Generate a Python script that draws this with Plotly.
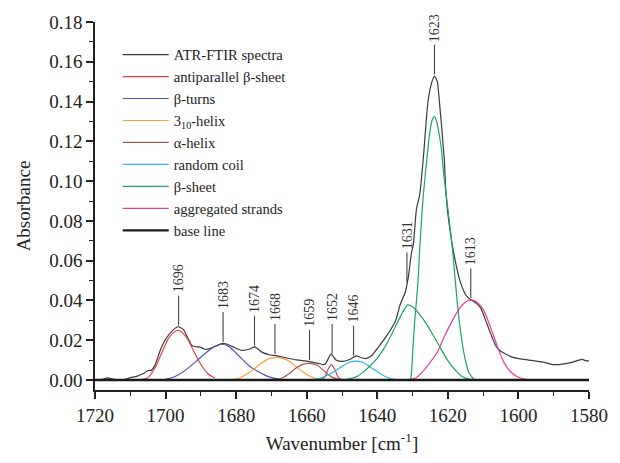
import numpy as np
import plotly.graph_objects as go

# ---------------- data ----------------
spec_wn = [1720, 1718, 1716.5, 1715, 1713, 1711.5, 1710, 1708, 1706, 1705, 1704, 1703,
           1701.5, 1700, 1698, 1696.5, 1695, 1693.5, 1692.5, 1691.2, 1690, 1688.9,
           1687.5, 1686.5, 1685, 1683.7, 1682, 1680.5, 1678.6, 1676.3, 1674.7, 1672.6,
           1670.3, 1668.4, 1665.6, 1662.8, 1659.6, 1656.8, 1654.9, 1653.1, 1651.7,
           1649.8, 1647.5, 1646, 1644.5, 1643.3, 1641.5, 1640.5, 1637.7, 1634.9,
           1633.5, 1632.1, 1631.2, 1630.3, 1629.8, 1628.9, 1628, 1627, 1625.6, 1624.5,
           1623.8, 1623, 1622.4, 1621, 1620.6, 1619.7, 1618.2, 1616.4, 1614.8, 1613.5,
           1612.6, 1610.8, 1609.5, 1608, 1606.5, 1605.2, 1603, 1601.5, 1599, 1595.9,
           1593, 1590.3, 1587.5, 1584.8, 1582, 1581, 1580]
spec_abs = [0.0000, 0.0003, 0.0011, 0.0005, 0.0002, 0.0004, 0.0012, 0.0020, 0.0035, 0.0048,
            0.0050, 0.0075, 0.0150, 0.0205, 0.0250, 0.0268, 0.0255, 0.0205, 0.0172, 0.0167,
            0.0165, 0.0155, 0.0158, 0.0164, 0.0177, 0.0184, 0.0176, 0.0164, 0.0150, 0.0155,
            0.0167, 0.0139, 0.0126, 0.0122, 0.0111, 0.0101, 0.0094, 0.0084, 0.0078, 0.0130,
            0.0101, 0.0094, 0.0106, 0.0122, 0.0112, 0.0108, 0.0125, 0.0147, 0.0213, 0.0296,
            0.0380, 0.0440, 0.0519, 0.0640, 0.0680, 0.0860, 0.0930, 0.1106, 0.1404, 0.1500,
            0.1528, 0.1500, 0.1400, 0.1106, 0.0957, 0.0792, 0.0626, 0.0490, 0.0425, 0.0403,
            0.0395, 0.0365, 0.0310, 0.0240, 0.0175, 0.0147, 0.0125, 0.0114, 0.0105, 0.0098,
            0.0090, 0.0078, 0.0080, 0.0089, 0.0104, 0.0098, 0.0096]

anti_wn = [1707, 1705, 1703, 1701, 1699, 1697, 1696.5, 1696, 1694, 1692, 1690, 1688, 1686]
anti_abs = [0.0003, 0.0012, 0.0062, 0.0140, 0.0215, 0.0248, 0.0250, 0.0248, 0.0213, 0.0145,
            0.0078, 0.0032, 0.0010]

turn_wn = [1700, 1698, 1696, 1694, 1692, 1690, 1688, 1686, 1684, 1682, 1680, 1678, 1676,
           1674, 1672, 1670, 1668]
turn_abs = [0.0005, 0.0013, 0.0030, 0.0055, 0.0084, 0.0115, 0.0145, 0.0170, 0.0180, 0.0168,
            0.0135, 0.0100, 0.0067, 0.0045, 0.0026, 0.0012, 0.0005]

h310_wn = [1681, 1679, 1677, 1675, 1673, 1671, 1669, 1668.5, 1667, 1665, 1663, 1661, 1659, 1657]
h310_abs = [0.0002, 0.0010, 0.0030, 0.0055, 0.0083, 0.0105, 0.0113, 0.0114, 0.0110, 0.0095,
            0.0067, 0.0040, 0.0018, 0.0006]

alpha1_wn = [1669, 1667, 1665, 1663, 1661, 1659, 1657, 1655, 1653, 1651]
alpha1_abs = [0.0002, 0.0010, 0.0032, 0.0060, 0.0080, 0.0084, 0.0074, 0.0045, 0.0016, 0.0004]

alpha2_wn = [1656, 1655, 1654, 1653, 1652, 1651, 1650]
alpha2_abs = [0.0002, 0.0012, 0.0052, 0.0078, 0.0052, 0.0012, 0.0002]

coil_wn = [1658, 1656, 1654, 1652, 1650, 1648, 1646, 1644, 1642, 1640, 1638, 1636, 1634]
coil_abs = [0.0002, 0.0010, 0.0025, 0.0045, 0.0068, 0.0088, 0.0095, 0.0088, 0.0066, 0.0042,
            0.0020, 0.0006, 0.0001]

sheet1_wn = [1650, 1648, 1646, 1644, 1642, 1640, 1638, 1636, 1634, 1632, 1631.4, 1630, 1628,
             1626, 1624, 1622, 1620, 1618, 1616, 1614, 1612]
sheet1_abs = [0.0001, 0.0006, 0.0016, 0.0040, 0.0072, 0.0110, 0.0162, 0.0228, 0.0300, 0.0365,
              0.0378, 0.0368, 0.0330, 0.0280, 0.0220, 0.0158, 0.0098, 0.0052, 0.0018, 0.0005,
              0.0001]

sheet2_wn = [1630.6, 1630.3, 1630.0, 1629.4, 1628.6, 1627.8, 1627.0, 1626.3, 1625.6, 1625.0,
             1624.4, 1623.8, 1623.2, 1622.6, 1621.9, 1621.2, 1620.4, 1619.6, 1618.7, 1617.8,
             1616.8, 1615.4, 1614.0, 1612.6]
sheet2_abs = [0.0000, 0.0035, 0.0130, 0.0296, 0.0461, 0.0709, 0.0920, 0.1050, 0.1170, 0.1260,
              0.1310, 0.1325, 0.1300, 0.1250, 0.1170, 0.1040, 0.0920, 0.0800, 0.0660, 0.0480,
              0.0300, 0.0130, 0.0035, 0.0003]

aggr_wn = [1631, 1629, 1627, 1625, 1623, 1621, 1619, 1617, 1615, 1613.5, 1612, 1610, 1608,
           1606, 1604, 1602, 1600, 1598, 1596]
aggr_abs = [0.0002, 0.0012, 0.0045, 0.0090, 0.0140, 0.0218, 0.0290, 0.0352, 0.0392, 0.0403,
            0.0395, 0.0355, 0.0270, 0.0170, 0.0085, 0.0038, 0.0014, 0.0004, 0.0001]

base_wn = [1720, 1580]
base_abs = [0.0, 0.0]

peak_labels = ["1696", "1683", "1674", "1668", "1659", "1652", "1646", "1631", "1623", "1613"]
peak_wn = [1696.3, 1683.7, 1674.8, 1669.0, 1659.2, 1652.8, 1646.7, 1631.6, 1623.8, 1613.5]

x_ticks = [1720, 1700, 1680, 1660, 1640, 1620, 1600, 1580]
y_ticks = [0.00, 0.02, 0.04, 0.06, 0.08, 0.10, 0.12, 0.14, 0.16, 0.18]

# ---------------- figure ----------------
FONT = "Liberation Serif"
fig = go.Figure()

fig.add_trace(go.Scatter(x=spec_wn, y=spec_abs, mode="lines", name="ATR-FTIR spectra",
                         line=dict(color="#3a3a3a", width=1.2, shape="spline", smoothing=0.6)))

comps = [
    ("antiparallel β-sheet", anti_wn, anti_abs, "#e8414b", "anti", True),
    ("β-turns", turn_wn, turn_abs, "#4a56b0", "turn", True),
    ("3<sub>10</sub>-helix", h310_wn, h310_abs, "#f5a23a", "h310", True),
    ("α-helix", alpha1_wn, alpha1_abs, "#a35a56", "alpha", True),
    ("α-helix", alpha2_wn, alpha2_abs, "#b8474c", "alpha", False),
    ("random coil", coil_wn, coil_abs, "#2bb5e8", "coil", True),
    ("β-sheet", sheet1_wn, sheet1_abs, "#1fa463", "sheet", True),
    ("β-sheet", sheet2_wn, sheet2_abs, "#1fa463", "sheet", False),
    ("aggregated strands", aggr_wn, aggr_abs, "#ec3c93", "aggr", True),
]
for name, xs, ys, col, grp, show in comps:
    fig.add_trace(go.Scatter(x=xs, y=ys, mode="lines", name=name, legendgroup=grp,
                             showlegend=show,
                             line=dict(color=col, width=1.2, shape="spline", smoothing=0.8)))

fig.add_trace(go.Scatter(x=base_wn, y=base_abs, mode="lines", name="base line",
                         line=dict(color="#1a1a1a", width=2.4)))

# peak labels with leader lines
spec_wn_asc = np.array(spec_wn[::-1])
spec_abs_asc = np.array(spec_abs[::-1])
lead = 0.0150
for lab, pw in zip(peak_labels, peak_wn):
    y0 = float(np.interp(pw, spec_wn_asc, spec_abs_asc)) + 0.0008
    y1 = y0 + lead
    fig.add_shape(type="line", xref="x", yref="y", x0=pw, x1=pw, y0=y0, y1=y1,
                  line=dict(color="#333333", width=1))
    fig.add_annotation(x=pw, y=y1, text=lab, showarrow=False, textangle=-90,
                       xanchor="center", yanchor="bottom", yshift=1,
                       font=dict(family=FONT, size=14, color="#333333"))

fig.update_layout(
    width=620, height=463,
    margin=dict(l=95, r=23, t=20, b=70),
    paper_bgcolor="white", plot_bgcolor="white",
    font=dict(family=FONT, color="#222222"),
    showlegend=True,
    legend=dict(x=0.046, y=0.955, xanchor="left", yanchor="top", itemwidth=46,
                bgcolor="rgba(0,0,0,0)", font=dict(family=FONT, size=14.6, color="#222222"),
                tracegroupgap=0),
    xaxis=dict(range=[1720, 1580], tickvals=x_ticks, ticktext=[str(v) for v in x_ticks],
               showline=True, linecolor="#222222", linewidth=1.5, mirror=False,
               ticks="outside", ticklen=7, tickwidth=1.5, tickcolor="#222222",
               minor=dict(dtick=10, ticks="outside", ticklen=4, tickwidth=1.2, tickcolor="#222222",
                          showgrid=False),
               showgrid=False, zeroline=False,
               tickfont=dict(family=FONT, size=19, color="#222222"),
               title=dict(text="Wavenumber [cm<sup>-1</sup>]",
                          font=dict(family=FONT, size=19, color="#222222"), standoff=12)),
    yaxis=dict(range=[-0.005, 0.18], tickvals=y_ticks, ticktext=[f"{v:.2f}" for v in y_ticks],
               showline=True, linecolor="#222222", linewidth=1.5, mirror=False,
               ticks="outside", ticklen=7, tickwidth=1.5, tickcolor="#222222",
               minor=dict(dtick=0.01, tick0=0, ticks="outside", ticklen=4, tickwidth=1.2,
                          tickcolor="#222222", showgrid=False),
               showgrid=False, zeroline=False,
               tickfont=dict(family=FONT, size=19, color="#222222"),
               title=dict(text="Absorbance", font=dict(family=FONT, size=19, color="#222222"),
                          standoff=14)),
)

fig.write_html("out.html")
